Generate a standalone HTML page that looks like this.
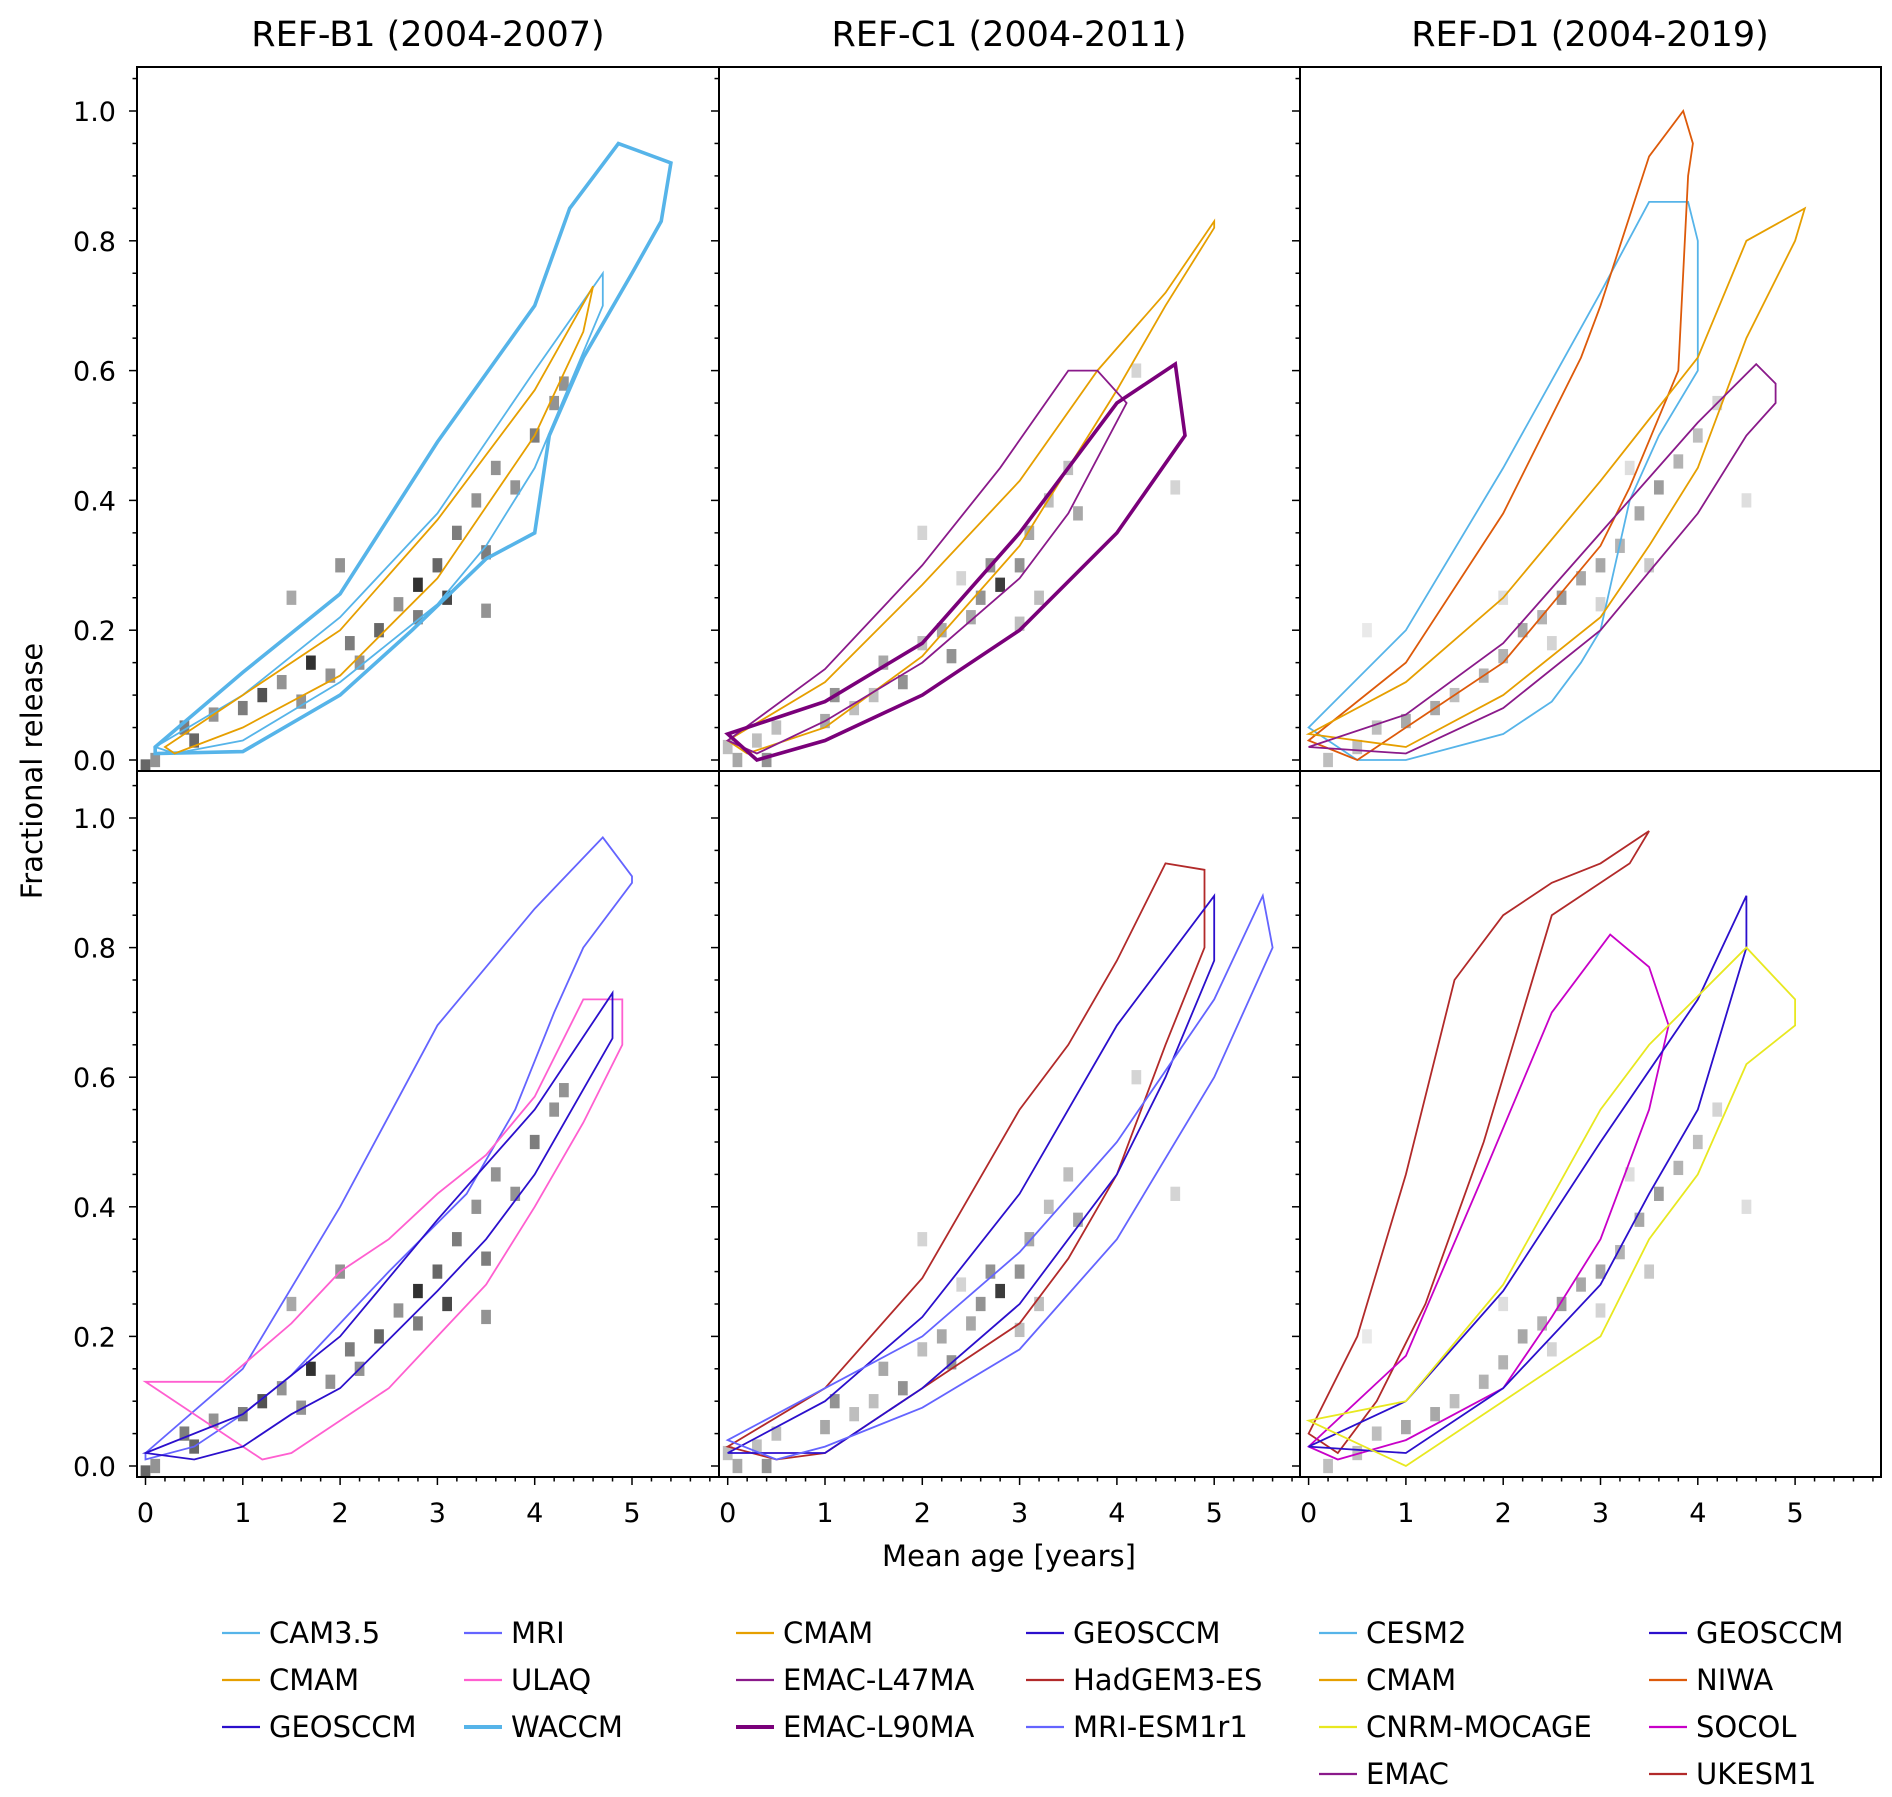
<!DOCTYPE html>
<html><head><meta charset="utf-8"><style>
body{margin:0;background:#fff;}
svg{display:block;font-family:"DejaVu Sans","Liberation Sans",sans-serif;}
</style></head><body>
<svg id="chart" width="1892" height="1797" viewBox="0 0 1892 1797" xmlns="http://www.w3.org/2000/svg">
<g id="bg"></g>
<text x="428" y="46" font-size="35" text-anchor="middle">REF-B1 (2004-2007)</text>
<text x="1009" y="46" font-size="35" text-anchor="middle">REF-C1 (2004-2011)</text>
<text x="1590" y="46" font-size="35" text-anchor="middle">REF-D1 (2004-2019)</text>
<text x="1009" y="1566" font-size="29" text-anchor="middle">Mean age [years]</text>
<text transform="translate(42,771) rotate(-90)" font-size="29" text-anchor="middle">Fractional release</text>
</svg>
<script>
// ---- data ----
const xTicks=[0,1,2,3,4,5];
const yTicks=[0.0,0.2,0.4,0.6,0.8,1.0];
// heatmap cells: ages, fractional release, shade (0..1)
const b1CellAge=[0,0.1,0.4,0.5,0.7,1.0,1.2,1.4,1.6,1.7,1.9,2.1,2.2,2.4,2.6,2.8,2.8,3.0,3.1,3.2,3.4,3.5,3.6,3.8,4.0,4.2,2.0,1.5,3.5,4.3];
const b1CellFr=[-0.01,0,0.05,0.03,0.07,0.08,0.1,0.12,0.09,0.15,0.13,0.18,0.15,0.2,0.24,0.27,0.22,0.3,0.25,0.35,0.4,0.32,0.45,0.42,0.5,0.55,0.3,0.25,0.23,0.58];
const b1CellShade=[0.7,0.5,0.6,0.7,0.5,0.6,0.8,0.5,0.5,0.95,0.5,0.6,0.5,0.7,0.5,0.95,0.6,0.7,0.85,0.6,0.5,0.6,0.5,0.5,0.6,0.5,0.5,0.4,0.5,0.5];
const c1CellAge=[0,0.1,0.4,0.5,1.0,1.1,1.5,1.6,1.8,2.0,2.2,2.3,2.5,2.6,2.8,2.7,3.0,3.1,3.3,3.5,3.6,2.0,4.2,4.6,3.2,0.3,1.3,2.4,3.0];
const c1CellFr=[0.02,0,0,0.05,0.06,0.1,0.1,0.15,0.12,0.18,0.2,0.16,0.22,0.25,0.27,0.3,0.3,0.35,0.4,0.45,0.38,0.35,0.6,0.42,0.25,0.03,0.08,0.28,0.21];
const c1CellShade=[0.3,0.4,0.5,0.3,0.4,0.5,0.3,0.4,0.5,0.3,0.4,0.5,0.4,0.5,0.9,0.5,0.5,0.4,0.3,0.3,0.4,0.2,0.2,0.2,0.3,0.3,0.3,0.2,0.3];
const d1CellAge=[0.2,0.5,0.7,1.0,1.3,1.5,1.8,2.0,2.2,2.4,2.6,2.8,3.0,3.2,3.4,3.6,3.8,4.0,4.2,2.5,3.0,3.5,2.0,3.3,4.5,0.6];
const d1CellFr=[0,0.02,0.05,0.06,0.08,0.1,0.13,0.16,0.2,0.22,0.25,0.28,0.3,0.33,0.38,0.42,0.46,0.5,0.55,0.18,0.24,0.3,0.25,0.45,0.4,0.2];
const d1CellShade=[0.3,0.3,0.3,0.4,0.4,0.3,0.35,0.35,0.4,0.35,0.45,0.4,0.4,0.35,0.4,0.45,0.35,0.3,0.2,0.2,0.2,0.25,0.15,0.15,0.15,0.1];
// contour bands: ages and FR along outline (upper edge then lower edge back)
const waccmAge=[0.1,1,2,3,4,4.36,4.86,5.4,5.3,5,4.5,4.15,4.0,3.5,2.74,2,1,0.1];
const waccmFr=[0.02,0.135,0.256,0.49,0.70,0.85,0.95,0.92,0.83,0.75,0.62,0.5,0.35,0.31,0.2,0.1,0.013,0.01];
const cam35Age=[0.1,1,2,3,4,4.7,4.7,4,3.5,3,2,1,0.3];
const cam35Fr=[0.02,0.1,0.22,0.38,0.6,0.75,0.7,0.45,0.33,0.24,0.12,0.03,0.01];
const cmamB1Age=[0.2,1,2,3,4,4.6,4.5,4,3,2,1,0.3];
const cmamB1Fr=[0.02,0.1,0.2,0.37,0.57,0.73,0.66,0.5,0.28,0.13,0.05,0.01];
const mriAge=[0,1,2,3,4,4.7,5,5,4.5,4.2,3.8,3.3,2.5,2,1.5,1,0.5,0];
const mriFr=[0.02,0.15,0.4,0.68,0.86,0.97,0.91,0.9,0.8,0.7,0.55,0.42,0.3,0.22,0.14,0.08,0.03,0.01];
const ulaqAge=[0,0.8,1.5,2,2.5,3,3.5,4,4.5,4.9,4.9,4.5,4,3.5,3,2.5,2,1.5,1.2];
const ulaqFr=[0.13,0.13,0.22,0.3,0.35,0.42,0.48,0.57,0.72,0.72,0.65,0.53,0.4,0.28,0.2,0.12,0.07,0.02,0.01];
const geosB1Age=[0,1,2,3,4,4.8,4.8,4,3.5,3,2,1.5,1,0.5];
const geosB1Fr=[0.02,0.08,0.2,0.38,0.55,0.73,0.66,0.45,0.35,0.27,0.12,0.08,0.03,0.01];
const cmamC1Age=[0,1,2,3,3.8,4.5,5,5,4.5,4,3,2,1,0.2];
const cmamC1Fr=[0.03,0.12,0.27,0.43,0.6,0.72,0.83,0.82,0.7,0.57,0.33,0.16,0.05,0.01];
const emac47Age=[0,1,2,2.8,3.5,3.8,4.1,3.5,3,2,1,0.3];
const emac47Fr=[0.03,0.14,0.3,0.45,0.6,0.6,0.55,0.38,0.28,0.15,0.06,0.01];
const emac90Age=[0,1,2,3,4,4.6,4.7,4,3,2,1,0.3];
const emac90Fr=[0.04,0.09,0.18,0.35,0.55,0.61,0.5,0.35,0.2,0.1,0.03,0.0];
const hadAge=[0,1,2,3,3.5,4,4.5,4.9,4.9,4.5,4,3.5,3,2,1,0.5];
const hadFr=[0.03,0.12,0.29,0.55,0.65,0.78,0.93,0.92,0.8,0.65,0.45,0.32,0.22,0.12,0.02,0.01];
const geosC1Age=[0,1,2,3,4,5,5,4.5,4,3,2,1];
const geosC1Fr=[0.02,0.1,0.23,0.42,0.68,0.88,0.78,0.6,0.45,0.25,0.12,0.02];
const mriEsmAge=[0,1,2,3,4,5,5.5,5.6,5,4,3,2,1,0.5];
const mriEsmFr=[0.04,0.12,0.2,0.33,0.5,0.72,0.88,0.8,0.6,0.35,0.18,0.09,0.03,0.01];
const cesmAge=[0,1,2,3,3.5,3.9,4.0,4.0,3.6,3.3,3,2.8,2.5,2,1,0.5];
const cesmFr=[0.05,0.2,0.45,0.72,0.86,0.86,0.8,0.6,0.5,0.4,0.2,0.15,0.09,0.04,0.0,0.0];
const niwaAge=[0,1,2,2.8,3,3.5,3.85,3.95,3.9,3.8,3.3,3,2,1,0.5];
const niwaFr=[0.03,0.15,0.38,0.62,0.7,0.93,1.0,0.95,0.9,0.6,0.42,0.33,0.15,0.05,0.0];
const cmamD1Age=[0,1,2,3,4,4.5,5.1,5,4.5,4,3.5,3,2,1];
const cmamD1Fr=[0.04,0.12,0.25,0.43,0.62,0.8,0.85,0.8,0.65,0.45,0.33,0.22,0.1,0.02];
const emacAge=[0,1,2,3,4,4.6,4.8,4.8,4.5,4,3,2,1];
const emacFr=[0.02,0.07,0.18,0.35,0.52,0.61,0.58,0.55,0.5,0.38,0.2,0.08,0.01];
const ukAge=[0,0.5,1,1.5,2,2.5,3,3.5,3.3,2.5,2.2,1.8,1.2,0.7,0.3];
const ukFr=[0.05,0.2,0.45,0.75,0.85,0.9,0.93,0.98,0.93,0.85,0.7,0.5,0.25,0.1,0.02];
const socolAge=[0,1,1.8,2.5,3.1,3.5,3.7,3.5,3,2.5,2,1,0.3];
const socolFr=[0.03,0.17,0.45,0.7,0.82,0.77,0.68,0.55,0.35,0.23,0.12,0.04,0.01];
const geosD1Age=[0,1,2,3,4,4.5,4.5,4,3.5,3,2,1];
const geosD1Fr=[0.03,0.1,0.27,0.5,0.72,0.88,0.8,0.55,0.42,0.28,0.12,0.02];
const cnrmAge=[0,1,2,3,3.5,4.5,5,5,4.5,4,3.5,3,2,1];
const cnrmFr=[0.07,0.1,0.28,0.55,0.65,0.8,0.72,0.68,0.62,0.45,0.35,0.2,0.1,0.0];

// ---- layout ----
const NS="http://www.w3.org/2000/svg";
const svg=document.getElementById('chart');
const colX0=[145.5,727.7,1308.6], pxYear=97.3;
const colLeft=[137,719,1300], colRight=[719,1300,1881];
const rowY0=[760,1466], pxUnit=[649,648];
const rowTop=[67,771], rowBot=[771,1477];
function sx(c,v){return colX0[c]+v*pxYear;}
function sy(r,v){return rowY0[r]-v*pxUnit[r];}
function mk(tag,attrs,parent){const e=document.createElementNS(NS,tag);for(const k in attrs)e.setAttribute(k,attrs[k]);(parent||svg).appendChild(e);return e;}

const C={lb:'#56b4e9',or:'#e69f00',gb:'#2b0fcc',mri:'#6464ff',pk:'#ff5fd0',pu:'#8a1a8a',dpu:'#7a007a',rd:'#b22a2a',ni:'#dd5a0a',ye:'#e8e820',so:'#c800c8'};
const panels=[
 {c:0,r:0,cells:[b1CellAge,b1CellFr,b1CellShade],s:[[waccmAge,waccmFr,C.lb,3.6,'contour-waccm'],[cam35Age,cam35Fr,C.lb,1.8,'contour-cam35'],[cmamB1Age,cmamB1Fr,C.or,1.8,'contour-cmam']]},
 {c:0,r:1,cells:[b1CellAge,b1CellFr,b1CellShade],s:[[mriAge,mriFr,C.mri,1.8,'contour-mri'],[ulaqAge,ulaqFr,C.pk,1.8,'contour-ulaq'],[geosB1Age,geosB1Fr,C.gb,1.8,'contour-geosccm']]},
 {c:1,r:0,cells:[c1CellAge,c1CellFr,c1CellShade],s:[[cmamC1Age,cmamC1Fr,C.or,1.8,'contour-cmam'],[emac47Age,emac47Fr,C.pu,1.8,'contour-emac-l47ma'],[emac90Age,emac90Fr,C.dpu,3.6,'contour-emac-l90ma']]},
 {c:1,r:1,cells:[c1CellAge,c1CellFr,c1CellShade],s:[[hadAge,hadFr,C.rd,1.8,'contour-hadgem3-es'],[geosC1Age,geosC1Fr,C.gb,1.8,'contour-geosccm'],[mriEsmAge,mriEsmFr,C.mri,1.8,'contour-mri-esm1r1']]},
 {c:2,r:0,cells:[d1CellAge,d1CellFr,d1CellShade],s:[[cesmAge,cesmFr,C.lb,1.8,'contour-cesm2'],[niwaAge,niwaFr,C.ni,1.8,'contour-niwa'],[cmamD1Age,cmamD1Fr,C.or,1.8,'contour-cmam'],[emacAge,emacFr,C.pu,1.8,'contour-emac']]},
 {c:2,r:1,cells:[d1CellAge,d1CellFr,d1CellShade],s:[[ukAge,ukFr,C.rd,1.8,'contour-ukesm1'],[socolAge,socolFr,C.so,1.8,'contour-socol'],[geosD1Age,geosD1Fr,C.gb,1.8,'contour-geosccm'],[cnrmAge,cnrmFr,C.ye,1.8,'contour-cnrm-mocage']]}
];
const defs=mk('defs',{});
panels.forEach((p,i)=>{
  const cp=mk('clipPath',{id:'cp'+i},defs);
  mk('rect',{x:colLeft[p.c],y:rowTop[p.r],width:colRight[p.c]-colLeft[p.c],height:rowBot[p.r]-rowTop[p.r]},cp);
  const g=mk('g',{'clip-path':'url(#cp'+i+')'});
  
  
  const [ca,cf,cs]=p.cells;
  for(let k=0;k<ca.length;k++){
    const v=Math.round(255*(1-0.85*cs[k]));
    const w=0.1*pxYear, h=0.022*pxUnit[p.r];
    const rc=mk('rect',{x:sx(p.c,ca[k])-w/2,y:sy(p.r,cf[k])-h/2,width:w,height:h,fill:`rgb(${v},${v},${v})`},g);
    
    
  }
  p.s.forEach(s=>{
    const pts=s[0].map((a,k)=>sx(p.c,a).toFixed(1)+','+sy(p.r,s[1][k]).toFixed(1)).join(' ');
    const pl=mk('polygon',{points:pts,fill:'none',stroke:s[2],'stroke-width':s[3],'stroke-linejoin':'miter'},g);
    
    
  });
});
// frame
for(let r=0;r<2;r++)for(let c=0;c<3;c++){
  const f=mk('rect',{x:colLeft[c],y:rowTop[r],width:colRight[c]-colLeft[c],height:rowBot[r]-rowTop[r],fill:'none',stroke:'#000','stroke-width':2});
  
  
}
// y ticks
for(let r=0;r<2;r++){
  for(let c=0;c<3;c++){
    for(let m=0;m<=21;m++){const v=m*0.05;const y=sy(r,v);if(y<rowTop[r]+2)continue;
      const major=(m%4===0);
      mk('line',{x1:colLeft[c],x2:colLeft[c]-(major?8:4.5),y1:y,y2:y,stroke:'#000','stroke-width':1.5});}
  }
  yTicks.forEach(v=>{
    const t=mk('text',{x:116,y:sy(r,v)+10,'font-size':27,'text-anchor':'end'});
    
    
    t.textContent=v.toFixed(1);
  });
}
// x ticks
for(let c=0;c<3;c++){
  for(let m=0;m<=29;m++){const v=m*0.2;const x=sx(c,v);if(x>colRight[c])continue;
    const major=(m%5===0);
    mk('line',{x1:x,x2:x,y1:1477,y2:1477+(major?8:4.5),stroke:'#000','stroke-width':1.5});}
  xTicks.forEach(v=>{
    const t=mk('text',{x:sx(c,v),y:1522,'font-size':27,'text-anchor':'middle'});
    
    
    t.textContent=v;
  });
}
// legend
const legNames=[['CAM3.5','CMAM','GEOSCCM'],['MRI','ULAQ','WACCM'],['CMAM','EMAC-L47MA','EMAC-L90MA'],['GEOSCCM','HadGEM3-ES','MRI-ESM1r1'],['CESM2','CMAM','CNRM-MOCAGE','EMAC'],['GEOSCCM','NIWA','SOCOL','UKESM1']];
const legCols=[[C.lb,C.or,C.gb],[C.mri,C.pk,C.lb],[C.or,C.pu,C.dpu],[C.gb,C.rd,C.mri],[C.lb,C.or,C.ye,C.pu],[C.gb,C.ni,C.so,C.rd]];
const legW=[[1.8,1.8,1.8],[1.8,1.8,3.6],[1.8,1.8,3.6],[1.8,1.8,1.8],[1.8,1.8,1.8,1.8],[1.8,1.8,1.8,1.8]];
const legX=[222,464,736,1026,1319,1649];
const legY=[1633,1680,1727,1774];
legNames.forEach((col,ci)=>col.forEach((n,ri)=>{
  const g=mk('g',{});
  
  
  mk('line',{x1:legX[ci],x2:legX[ci]+38,y1:legY[ri],y2:legY[ri],stroke:legCols[ci][ri],'stroke-width':legW[ci][ri]+0.5},g);
  const t=mk('text',{x:legX[ci]+47,y:legY[ri]+10,'font-size':29},g);
  t.textContent=n;
}));
</script>
</body></html>
